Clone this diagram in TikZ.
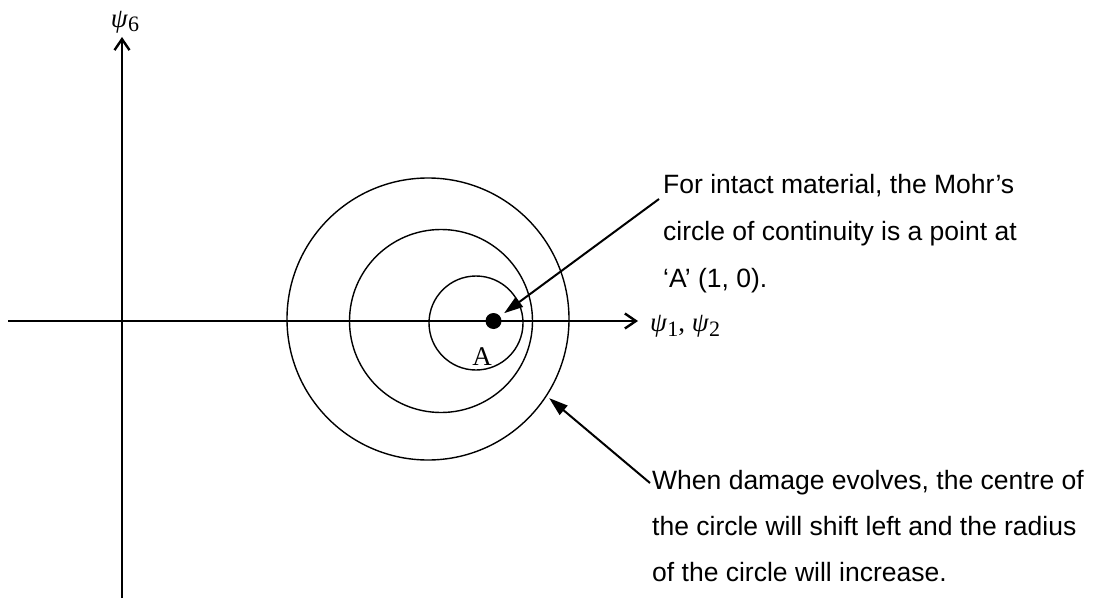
\documentclass[tikz,border=0pt]{standalone}
\usepackage{fontspec}
\setmainfont{Liberation Sans}
\newfontfamily\serifA{Liberation Serif}
\usetikzlibrary{arrows.meta}
\begin{document}
\begin{tikzpicture}[x=1pt,y=-1pt,
  axis/.style={line width=2.8pt, -{Straight Barb[length=11pt,width=15pt,line width=2.4pt]}},
  ring/.style={circle, draw, line width=1.4pt, inner sep=0pt},
  callout/.style={line width=2pt, -{Triangle[length=19pt,width=12pt]}},
  note/.style={font=\fontsize{26.5}{30}\selectfont, anchor=base west, inner sep=0pt},
  psilab/.style={font=\serifA\fontsize{27}{27}\selectfont, inner sep=0pt},
  ]
\useasboundingbox (0,0) rectangle (1108,599);
% circles
\node[ring, minimum size=282pt] (big) at (428,319) {};
\node[ring, minimum size=183pt] (mid) at (441,321) {};
\node[ring, minimum size=94pt] (small) at (476,323) {};
% axes
\coordinate (xl) at (8,321);
\coordinate (xr) at (638,321);
\coordinate (yb) at (122,598);
\coordinate (yt) at (122,37);
\draw[axis] (xl) -- (xr);
\draw[axis] (yb) -- (yt);
% point A
\node[circle, fill, minimum size=16pt, inner sep=0pt] (A) at (493.5,321) {};
\node[font=\serifA\fontsize{27}{27}\selectfont, inner sep=0pt] (lblA) at (482,357) {A};
% axis labels
\node[psilab] (ly) at (125,22) {\textit{ψ}\raisebox{-4pt}{\fontsize{22}{22}\selectfont 6}};
\node[psilab, anchor=west] (lx) at (650,326) {\textit{ψ}\raisebox{-5pt}{\fontsize{22}{22}\selectfont 1}, \textit{ψ}\raisebox{-5pt}{\fontsize{22}{22}\selectfont 2}};
% notes
\node[note] (n1a) at (663,193) {For intact material, the Mohr's};
\node[note] (n1b) at (663,240) {circle of continuity is a point at};
\node[note] (n1c) at (663,287) {`A' (1, 0).};
\node[note] (n2a) at (652,489) {When damage evolves, the centre of};
\node[note] (n2b) at (652,535) {the circle will shift left and the radius};
\node[note] (n2c) at (652,581) {of the circle will increase.};
% callouts
\coordinate (s1) at (659,199);
\coordinate (s2) at (650,483);
\draw[callout, shorten >=5pt] (s1) -- (A);
\draw[callout, shorten >=3pt] (s2) -- (big.-33);
\end{tikzpicture}
\end{document}
